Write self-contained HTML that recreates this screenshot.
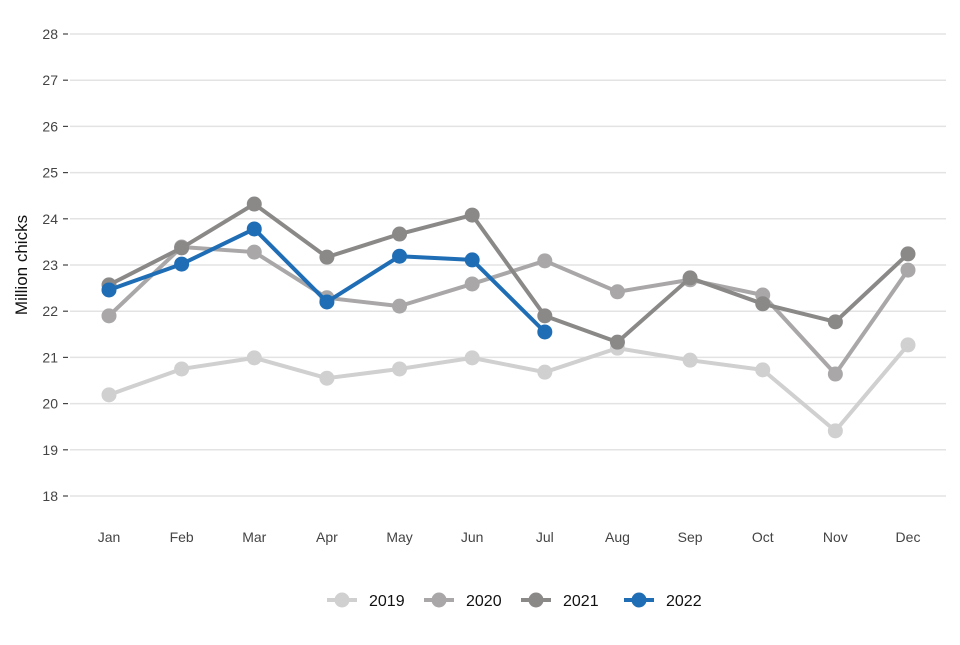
<!DOCTYPE html>
<html><head><meta charset="utf-8"><style>
body{margin:0;background:#fff;font-family:"Liberation Sans",sans-serif}
svg text{font-family:"Liberation Sans",sans-serif}
</style></head><body>
<svg id="chart" width="960" height="640" xmlns="http://www.w3.org/2000/svg"></svg>
<script>
const months=["Jan","Feb","Mar","Apr","May","Jun","Jul","Aug","Sep","Oct","Nov","Dec"];
const yTicks=[18,19,20,21,22,23,24,25,26,27,28];
const seriesNames=["2019","2020","2021","2022"];
const seriesColors=["#d0d0d0","#a9a7a7","#8b8888","#1f6db5"];
const v2019=[20.19,20.75,20.99,20.55,20.75,20.99,20.68,21.2,20.94,20.73,19.41,21.27];
const v2020=[21.9,23.39,23.28,22.29,22.11,22.59,23.09,22.42,22.68,22.35,20.64,22.89];
const v2021=[22.57,23.37,24.32,23.17,23.67,24.08,21.9,21.33,22.72,22.16,21.77,23.24];
const v2022=[22.46,23.02,23.78,22.2,23.19,23.11,21.55];
const allSeries=[v2019,v2020,v2021,v2022];
const NS="http://www.w3.org/2000/svg";
const svg=document.getElementById('chart');
const x=i=>109+i*(908-109)/11;
const y=v=>496-(v-18)*(496-34)/10;
function mk(t,a,p){const e=document.createElementNS(NS,t);for(const k in a)e.setAttribute(k,a[k]);(p||svg).appendChild(e);return e;}
yTicks.forEach(t=>{
 const g=mk('line',{x1:70,x2:946,y1:y(t),y2:y(t),stroke:'#e3e3e3','stroke-width':1.5});
 
 
 const tk=mk('line',{x1:63,x2:68,y1:y(t),y2:y(t),stroke:'#444','stroke-width':1.2});
 
 
 const l=mk('text',{x:58,y:y(t)+5,'text-anchor':'end','font-size':14,fill:'#444'});l.textContent=t;
 
 
});
months.forEach((m,i)=>{
 const l=mk('text',{x:x(i),y:542,'text-anchor':'middle','font-size':14,fill:'#444'});l.textContent=m;
 
 
});
const yt=mk('text',{x:0,y:0,transform:'translate(27,265) rotate(-90)','text-anchor':'middle','font-size':17,fill:'#111'});yt.textContent='Million chicks';


allSeries.forEach((s,k)=>{
 const g=mk('g',{});
 
 
 const pl=mk('polyline',{points:s.map((v,i)=>x(i)+','+y(v)).join(' '),fill:'none',stroke:seriesColors[k],'stroke-width':4,'stroke-linejoin':'round'},g);
 
 
 s.forEach((v,i)=>{const c=mk('circle',{cx:x(i),cy:y(v),r:7.5,fill:seriesColors[k]},g);
  
  });
});
const lx=[327,424,521,624];
seriesNames.forEach((n,k)=>{
 const g=mk('g',{});
 
 
 mk('line',{x1:lx[k],x2:lx[k]+30,y1:600,y2:600,stroke:seriesColors[k],'stroke-width':4},g);
 mk('circle',{cx:lx[k]+15,cy:600,r:7.5,fill:seriesColors[k]},g);
 const t=mk('text',{x:lx[k]+42,y:606,'font-size':16,fill:'#111'},g);t.textContent=n;
});
</script>
</body></html>
